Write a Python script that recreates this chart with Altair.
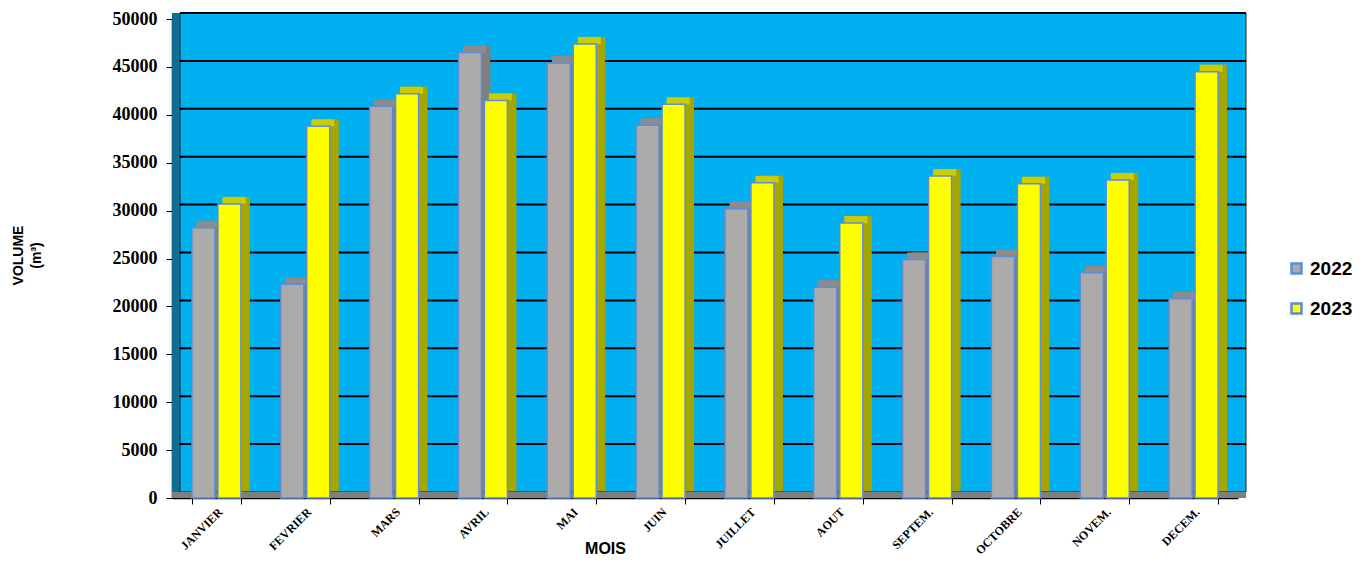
import altair as alt
import pandas as pd

mois = ["JANVIER", "FEVRIER", "MARS", "AVRIL", "MAI", "JUIN",
        "JUILLET", "AOUT", "SEPTEM.", "OCTOBRE", "NOVEM.", "DECEM."]
annees = ["2022", "2023"]
v2022 = [28200, 22300, 40900, 46500, 45400, 38900, 30200, 22000, 24900, 25200, 23500, 20800]
v2023 = [30700, 38800, 42200, 41500, 47400, 41100, 32900, 28700, 33600, 32800, 33200, 44500]
graduations = [0, 5000, 10000, 15000, 20000, 25000, 30000, 35000, 40000, 45000, 50000]

rows = []
for m, a, b in zip(mois, v2022, v2023):
    rows.append({"mois": m, "annee": "2022", "volume": a})
    rows.append({"mois": m, "annee": "2023", "volume": b})
df = pd.DataFrame(rows)
grid_df = pd.DataFrame({"volume": graduations[1:]})
one = pd.DataFrame({"k": [0]})

W, H = 1066, 479
DX, DY = 8, -6      # depth of the back wall
BX, BY = 9, -7      # depth of each bar


def xs(shift):
    return alt.Scale(domain=mois, paddingInner=0.448, paddingOuter=0.224,
                     range=[shift, W + shift])


yscale = alt.Scale(domain=[0, 50000], nice=False, zero=True)
xoff_scale = alt.Scale(domain=annees, paddingInner=0.115)
xoff = alt.XOffset("annee:N", scale=xoff_scale, sort=annees)

# decorative 3D box
left_wall = alt.Chart(one).mark_rect(color="#0D6E93").encode(
    x=alt.value(0), x2=alt.value(DX), y=alt.value(DY), y2=alt.value(H))
back_wall = alt.Chart(one).mark_rect(color="#00B0F0", stroke="#222222", strokeWidth=1).encode(
    x=alt.value(DX), x2=alt.value(W + DX), y=alt.value(DY), y2=alt.value(H + DY))
floor = alt.Chart(one).mark_rect(color="#7F7F7F").encode(
    x=alt.value(0), x2=alt.value(W + DX), y=alt.value(H + DY), y2=alt.value(H))

grid = alt.Chart(grid_df).mark_rule(color="#000000", strokeWidth=2, yOffset=DY).encode(
    y=alt.Y("volume:Q", scale=yscale, axis=None),
    x=alt.value(DX), x2=alt.value(W + DX))

shadow = alt.Chart(df).mark_bar(yOffset=BY, y2Offset=BY).encode(
    x=alt.X("mois:N", scale=xs(BX), sort=mois, axis=None), xOffset=xoff,
    y=alt.Y("volume:Q", scale=yscale, axis=None),
    color=alt.Color("annee:N", scale=alt.Scale(domain=annees, range=["#7F7F7F", "#A6A600"]), legend=None))

top = alt.Chart(df).mark_bar(yOffset=BY).encode(
    x=alt.X("mois:N", scale=xs(BX / 2), sort=mois, axis=None), xOffset=xoff,
    y=alt.Y("volume:Q", scale=yscale, axis=None),
    y2=alt.Y2("volume:Q"),
    color=alt.Color("annee:N", scale=alt.Scale(domain=annees, range=["#8C8C8C", "#CCCC00"]), legend=None))

front = alt.Chart(df).mark_bar(stroke="#5E8CD8", strokeWidth=1.5).encode(
    x=alt.X("mois:N", scale=xs(0), sort=mois, title="MOIS",
            axis=alt.Axis(labelAngle=-45, labelFont="Liberation Serif", labelFontWeight="bold",
                          labelFontSize=12, labelColor="#000000", labelPadding=2,
                          tickBand="extent", tickColor="#000000", tickSize=6, tickWidth=1,
                          domainColor="#000000", domainWidth=1.5,
                          titleFont="Liberation Sans", titleFontWeight="bold", titleFontSize=16,
                          titleColor="#000000", titleX=433, titleY=50,
                          titleAlign="center", titleBaseline="middle")),
    xOffset=xoff,
    y=alt.Y("volume:Q", scale=yscale, title=["VOLUME", "(m³)"],
            axis=alt.Axis(values=graduations, format="d", labelFont="Liberation Serif",
                          labelFontWeight="bold",
                          labelFontSize=18, labelColor="#000000", labelPadding=9,
                          tickColor="#000000", tickSize=6, tickWidth=1,
                          domainColor="#000000", domainWidth=1.5, grid=False,
                          titleFont="Liberation Sans", titleFontWeight="bold", titleFontSize=14,
                          titleColor="#000000", titleAngle=-90, titleX=-161, titleY=236,
                          titleAlign="center", titleBaseline="top", titleLineHeight=18)),
    color=alt.Color("annee:N", scale=alt.Scale(domain=annees, range=["#ADAAAA", "#FFFF00"]),
                    legend=alt.Legend(title=None, orient="none", legendX=1115, legendY=240,
                                      symbolType="square", symbolSize=100,
                                      symbolStrokeColor="#5E8CD8", symbolStrokeWidth=2.5,
                                      labelFont="Liberation Sans", labelFontWeight="bold",
                                      labelFontSize=19, labelColor="#000000",
                                      rowPadding=19, labelOffset=4)))

chart = alt.layer(left_wall, back_wall, floor, grid, shadow, top, front).resolve_scale(
    x="independent", y="independent", color="independent"
).properties(
    width=W, height=H,
    autosize=alt.AutoSizeParams(type="none"),
    padding={"left": 164, "top": 11, "right": 119, "bottom": 58},
).configure_view(stroke=None)

chart.save("out.html", embed_options={"renderer": "svg", "actions": False})
